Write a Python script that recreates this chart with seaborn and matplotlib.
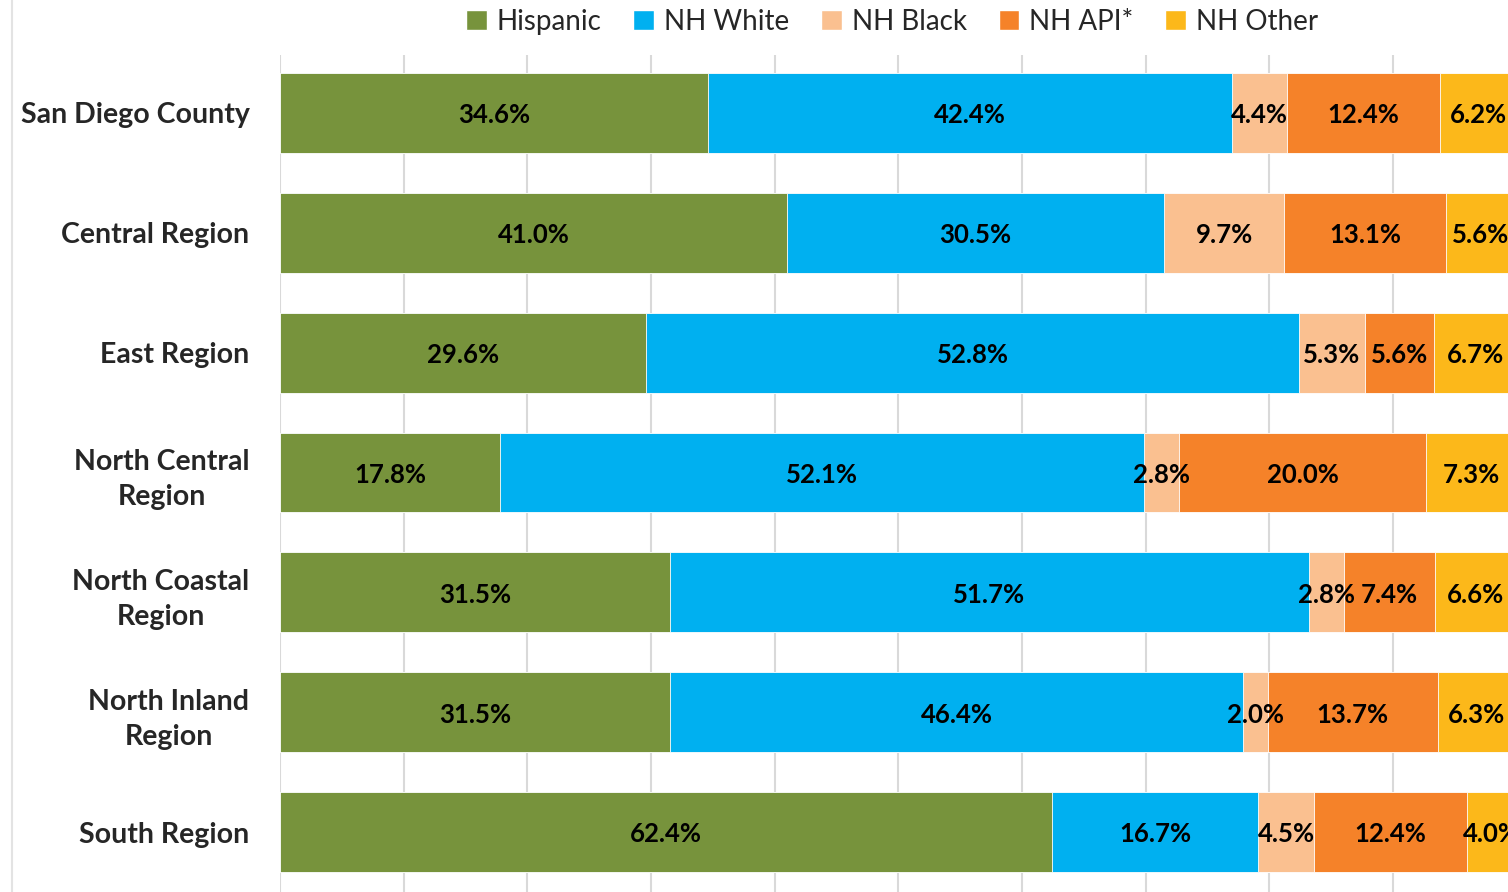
import numpy as np
import pandas as pd
import seaborn as sns
import matplotlib.pyplot as plt
from matplotlib.lines import Line2D
from matplotlib.patches import Patch

# === Data ===
regions = ["San Diego County", "Central Region", "East Region",
           "North Central\nRegion", "North Coastal\nRegion",
           "North Inland\nRegion", "South Region"]
groups = ["Hispanic", "NH White", "NH Black", "NH API*", "NH Other"]
hispanic = [34.6, 41.0, 29.6, 17.8, 31.5, 31.5, 62.4]
nh_white = [42.4, 30.5, 52.8, 52.1, 51.7, 46.4, 16.7]
nh_black = [4.4, 9.7, 5.3, 2.8, 2.8, 2.0, 4.5]
nh_api = [12.4, 13.1, 5.6, 20.0, 7.4, 13.7, 12.4]
nh_other = [6.2, 5.6, 6.7, 7.3, 6.6, 6.3, 4.0]
colors = ["#77933C", "#00B0F0", "#FAC090", "#F58229", "#FCB81A"]

df = pd.DataFrame({"Region": regions, "Hispanic": hispanic, "NH White": nh_white,
                   "NH Black": nh_black, "NH API*": nh_api, "NH Other": nh_other})
cum = df[groups].cumsum(axis=1)

sns.set_theme(style="white")
plt.rcParams["font.family"] = ["Lato", "DejaVu Sans"]

fig = plt.figure(figsize=(15.08, 8.92), dpi=100)
ax = fig.add_axes([280 / 1508, 0, 1 - 280 / 1508, 1 - 55 / 892])

# Draw stacked bars: largest cumulative first, then overlay smaller ones
for g, c in reversed(list(zip(groups, colors))):
    sns.barplot(x=cum[g], y=df["Region"], color=c, orient="h", width=0.667,
                ax=ax, saturation=1, edgecolor="white", linewidth=0.6, zorder=2)

# Segment labels
for i in range(len(regions)):
    for g in groups:
        val = df.loc[i, g]
        center = cum.loc[i, g] - val / 2
        ax.text(center, i + 0.02, f"{val:.1f}%", ha="center", va="center",
                fontsize=18.5, fontweight="bold", color="black", zorder=3)

ax.set_xlim(0, 99.3)
ax.set_ylim(6.5, -0.483)
ax.set_xticks(np.arange(0, 100, 10))
ax.xaxis.grid(True, color="#d9d9d9", linewidth=1.5, zorder=0)
ax.set_axisbelow(True)
ax.tick_params(axis="x", labelbottom=False, length=0)
ax.tick_params(axis="y", length=0, pad=22)
for lbl in ax.get_yticklabels():
    lbl.set_fontsize(20.5)
    lbl.set_fontweight("bold")
    lbl.set_multialignment("center")
    lbl.set_linespacing(1.45)
ax.set_xlabel("")
ax.set_ylabel("")
for s in ax.spines.values():
    s.set_visible(False)

# Faint border line at the far left
fig.add_artist(Line2D([12 / 1508, 12 / 1508], [0, 1], color="#e3e3e3", linewidth=1.5))

handles = [Patch(facecolor=c, label=g) for g, c in zip(groups, colors)]
fig.legend(handles=handles, loc="upper center", bbox_to_anchor=(892 / 1508, 1.018),
           ncol=5, frameon=False, fontsize=20, handlelength=0.75, handleheight=0.75,
           handletextpad=0.35, columnspacing=1.15)

plt.savefig("out.png", dpi=100)
plt.close()
